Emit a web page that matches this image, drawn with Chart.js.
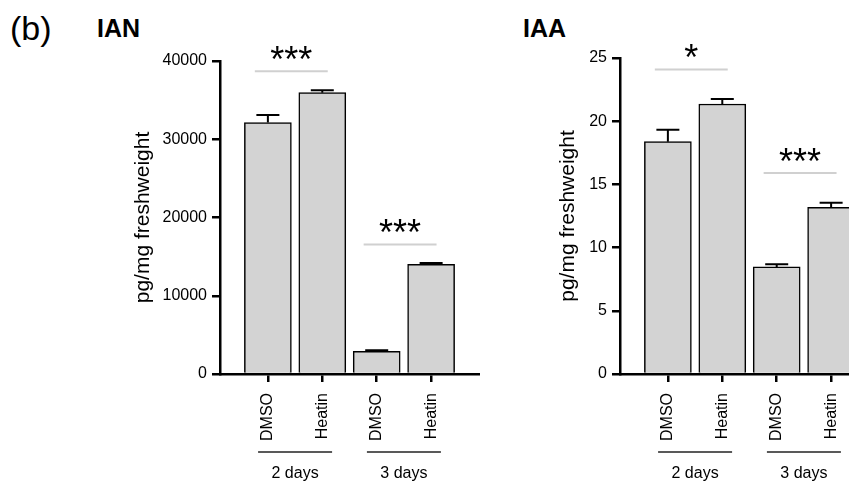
<!DOCTYPE html>
<html>
<head>
<meta charset="utf-8">
<script src="https://cdn.jsdelivr.net/npm/chart.js@4/dist/chart.umd.min.js"></script>
<style>
  html, body { margin: 0; padding: 0; background: #fff; }
  body { position: relative; width: 849px; height: 482px; overflow: hidden; font-family: "Liberation Sans", Arial, sans-serif; }
  canvas { position: absolute; top: 0; }
  #ian { left: 0; }
  #iaa { left: 450px; }
  .lbl { position: absolute; line-height: 1; color: #000; white-space: nowrap; }
  .panel { left: 10px; top: 11px; font-size: 34px; }
  .name { top: 16px; font-size: 25px; font-weight: bold; }
</style>
</head>
<body>
<div class="lbl panel">(b)</div>
<div class="lbl name" style="left:97px">IAN</div>
<div class="lbl name" style="left:523px">IAA</div>
<canvas id="ian" width="480" height="482"></canvas>
<canvas id="iaa" width="430" height="482"></canvas>
<script>
// bars, in plotting order
const treatments = ['DMSO', 'Heatin', 'DMSO', 'Heatin'];
const positions = [1, 2, 3, 4];
const groups = ['2 days', '3 days'];
const groupMembers = [[1, 2], [3, 4]];

// IAN (pg/mg freshweight)
const ianValues = [32140, 35950, 2900, 14020];
const ianErrors = [960, 300, 130, 160];
const ianTicks = [0, 10000, 20000, 30000, 40000];
const ianSigLabels = ['***', '***'];
const ianSigLevels = [38700, 16550];

// IAA (pg/mg freshweight)
const iaaValues = [18.38, 21.36, 8.47, 13.19];
const iaaErrors = [0.95, 0.40, 0.21, 0.36];
const iaaTicks = [0, 5, 10, 15, 20, 25];
const iaaSigLabels = ['*', '***'];
const iaaSigLevels = [24.1, 15.9];

const FONT = '"Liberation Sans", Arial, sans-serif';

// error bars, significance lines and group labels
const extras = {
  id: 'extras',
  afterDatasetsDraw(chart, args, opts) {
    const ctx = chart.ctx;
    const x = chart.scales.x, y = chart.scales.y;
    const bars = chart.getDatasetMeta(0).data;
    ctx.save();
    ctx.strokeStyle = '#000';
    ctx.lineWidth = 2;
    bars.forEach((bar, i) => {
      const top = y.getPixelForValue(opts.values[i] + opts.errors[i]);
      ctx.beginPath();
      ctx.moveTo(bar.x, bar.y);
      ctx.lineTo(bar.x, top);
      ctx.moveTo(bar.x - 11.5, top);
      ctx.lineTo(bar.x + 11.5, top);
      ctx.stroke();
    });

    // significance
    groupMembers.forEach((g, i) => {
      const x1 = x.getPixelForValue(g[0] - 0.24);
      const x2 = x.getPixelForValue(g[1] + 0.1);
      const ly = y.getPixelForValue(opts.sigLevels[i]);
      ctx.strokeStyle = '#d0d0d0';
      ctx.lineWidth = 2;
      ctx.beginPath();
      ctx.moveTo(x1, ly);
      ctx.lineTo(x2, ly);
      ctx.stroke();
      ctx.font = '36px ' + FONT;
      ctx.fillStyle = '#000';
      ctx.textAlign = 'center';
      ctx.textBaseline = 'alphabetic';
      const m = ctx.measureText(opts.sigLabels[i]);
      const half = (m.actualBoundingBoxAscent - m.actualBoundingBoxDescent) / 2;
      ctx.fillText(opts.sigLabels[i], (x1 + x2) / 2, ly - 18 + half);
    });

    // groups under the axis
    const base = chart.chartArea.bottom;
    groupMembers.forEach((g, i) => {
      const x1 = x.getPixelForValue(g[0] - 0.18);
      const x2 = x.getPixelForValue(g[1] + 0.18);
      ctx.strokeStyle = '#222';
      ctx.lineWidth = 1.5;
      ctx.beginPath();
      ctx.moveTo(x1, base + 78);
      ctx.lineTo(x2, base + 78);
      ctx.stroke();
      ctx.font = '16px ' + FONT;
      ctx.fillStyle = '#000';
      ctx.textAlign = 'center';
      ctx.textBaseline = 'alphabetic';
      ctx.fillText(groups[i], (x1 + x2) / 2, base + 104);
    });
    ctx.restore();
  }
};

function makeChart(id, values, errors, ticks, sigLabels, sigLevels, pad, titlePad) {
  return new Chart(document.getElementById(id), {
    type: 'bar',
    data: {
      datasets: [{
        data: positions.map((p, i) => ({ x: p, y: values[i] })),
        backgroundColor: '#d3d3d3',
        borderColor: '#000',
        borderWidth: 1.5,
        barThickness: 47
      }]
    },
    options: {
      responsive: false,
      animation: false,
      events: [],
      layout: { padding: pad },
      plugins: {
        legend: { display: false },
        tooltip: { enabled: false },
        extras: { values, errors, sigLabels, sigLevels }
      },
      scales: {
        x: {
          type: 'linear',
          offset: false,
          min: 0.12,
          max: 4.88,
          afterBuildTicks: s => { s.ticks = positions.map(v => ({ value: v })); },
          afterFit: s => { s.height = 108; },
          grid: { offset: false, drawOnChartArea: false, drawTicks: true, tickLength: 8, color: '#000', lineWidth: 2.5 },
          border: { display: true, color: '#000', width: 2.5 },
          ticks: {
            autoSkip: false,
            minRotation: 90,
            maxRotation: 90,
            padding: 11,
            color: '#000',
            font: { family: FONT, size: 16 },
            callback: v => treatments[positions.indexOf(v)] ?? ''
          }
        },
        y: {
          min: ticks[0],
          max: ticks[ticks.length - 1],
          afterBuildTicks: s => { s.ticks = ticks.map(v => ({ value: v })); },
          afterFit: s => { s.width = 100; },
          grid: { drawOnChartArea: false, drawTicks: true, tickLength: 8, color: '#000', lineWidth: 2.5 },
          border: { display: true, color: '#000', width: 2.5 },
          ticks: {
            padding: 5,
            color: '#000',
            font: { family: FONT, size: 16 },
            callback: v => String(v)
          },
          title: {
            display: true,
            text: 'pg/mg freshweight',
            color: '#000',
            font: { family: FONT, size: 21 },
            padding: { top: titlePad, bottom: 0 }
          }
        }
      }
    },
    plugins: [extras]
  });
}

makeChart('ian', ianValues, ianErrors, ianTicks, ianSigLabels, ianSigLevels,
  { left: 120, right: 1, top: 61, bottom: 0 }, 11);
makeChart('iaa', iaaValues, iaaErrors, iaaTicks, iaaSigLabels, iaaSigLevels,
  { left: 70, right: 1, top: 58, bottom: 0 }, 36);
</script>
</body>
</html>
